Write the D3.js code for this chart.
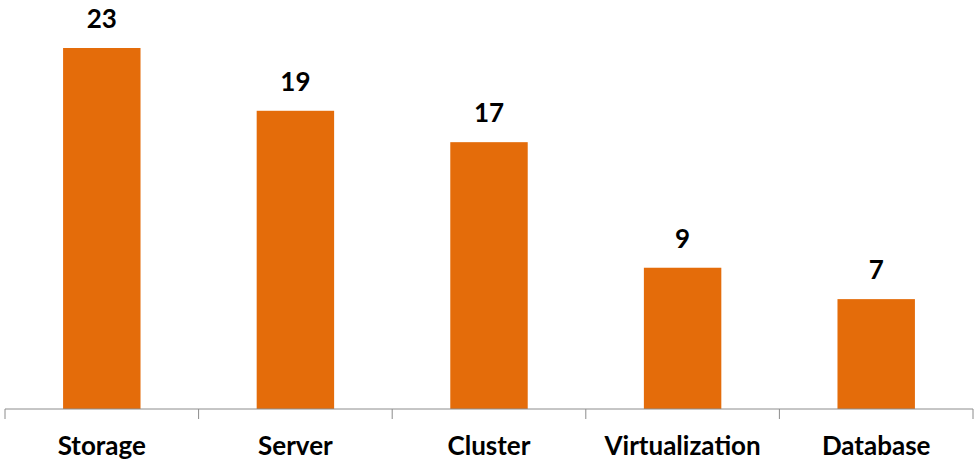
<!DOCTYPE html>
<html>
<head>
<meta charset="utf-8">
<script src="https://cdn.jsdelivr.net/npm/d3@7"></script>
<style>
  body { margin: 0; background: #fff; }
  svg text { font-family: Lato, "Open Sans", sans-serif; font-weight: bold; fill: #000; }
</style>
</head>
<body>
<div id="chart"></div>
<script>
// chart data
let categories = ["Storage", "Server", "Cluster", "Virtualization", "Database"];
let counts = [23, 19, 17, 9, 7];

let width = 974,
    height = 462,
    left = 5,
    right = 973,
    baseline = 409;

let svg = d3.select("#chart").append("svg")
    .attr("width", width)
    .attr("height", height);

/* Scale */
let xScale = d3.scaleBand()
    .domain(categories)
    .range([left, right])
    .paddingInner(0.6)
    .paddingOuter(0.3);

let yScale = d3.scaleLinear()
    .domain([0, 23])
    .range([baseline, 48]);

/* Bars */
svg.append("g")
    .selectAll("rect")
    .data(categories).enter()
    .append("rect")
    .attr("x", d => xScale(d))
    .attr("y", (d, i) => yScale(counts[i]))
    .attr("width", xScale.bandwidth())
    .attr("height", (d, i) => baseline - yScale(counts[i]))
    .style("fill", "#e46c0a");

/* Value labels */
svg.append("g")
    .selectAll("text")
    .data(categories).enter()
    .append("text")
    .attr("x", d => xScale(d) + xScale.bandwidth() / 2)
    .attr("y", (d, i) => yScale(counts[i]) - 20)
    .attr("text-anchor", "middle")
    .style("font-size", "26px")
    .text((d, i) => counts[i]);

/* Axis: ticks between categories */
let step = xScale.step();
let tickPos = d3.range(categories.length + 1).map(i => left + i * step);

let axis = svg.append("g");
axis.append("line")
    .attr("x1", left).attr("x2", right)
    .attr("y1", baseline).attr("y2", baseline)
    .style("stroke", "#8c8c8c")
    .style("stroke-width", 1);
axis.selectAll(".tick")
    .data(tickPos).enter()
    .append("line")
    .attr("class", "tick")
    .attr("x1", d => d).attr("x2", d => d)
    .attr("y1", baseline).attr("y2", baseline + 10)
    .style("stroke", "#8c8c8c")
    .style("stroke-width", 1);

axis.selectAll("text")
    .data(categories).enter()
    .append("text")
    .attr("x", d => xScale(d) + xScale.bandwidth() / 2)
    .attr("y", 455)
    .attr("text-anchor", "middle")
    .style("font-size", "26px")
    .text(d => d);
</script>
</body>
</html>
